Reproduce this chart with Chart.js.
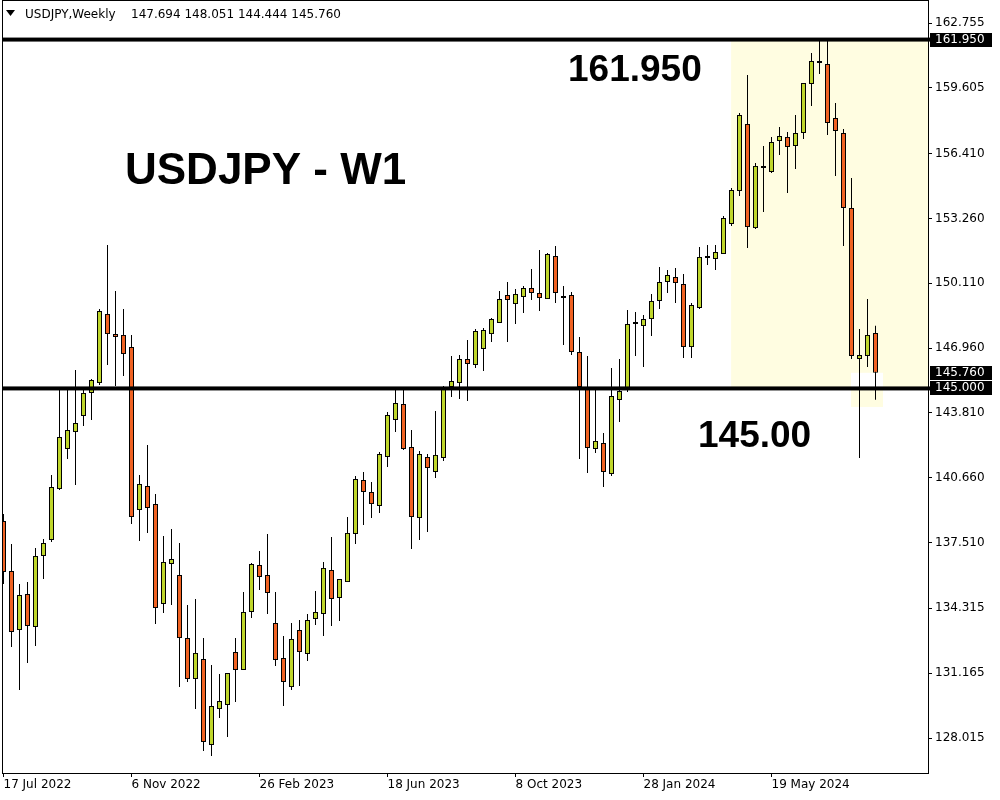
<!DOCTYPE html>
<html>
<head>
<meta charset="utf-8">
<script src="https://cdn.jsdelivr.net/npm/chart.js@4.4.0/dist/chart.umd.min.js"></script>
<style>
  html, body { margin: 0; padding: 0; background: #fff; }
</style>
</head>
<body>
<canvas id="myChart" width="1000" height="800"></canvas>
<script>
// weekly candles, first one = week of 17 Jul 2022
const opens = [
  138.56, 136.13, 133.26, 135.01, 133.41, 136.86, 137.64, 140.11, 142.06, 142.88,
  143.66, 144.78, 145.26, 148.62, 147.64, 147.60, 147.01, 139.09, 140.26, 139.38,
  134.53, 136.47, 135.93, 132.87, 130.88, 131.85, 127.68, 129.42, 129.62, 132.19,
  131.32, 134.14, 136.42, 135.93, 133.60, 131.90, 130.49, 133.26, 132.10, 133.80,
  134.04, 136.18, 134.82, 135.59, 137.93, 140.55, 139.97, 139.29, 141.67, 143.47,
  144.24, 142.15, 138.70, 141.67, 140.94, 141.62, 145.07, 145.26, 146.43, 146.14,
  146.92, 147.64, 148.18, 149.54, 149.10, 149.44, 149.88, 149.64, 149.34, 151.43,
  149.39, 149.54, 146.77, 144.97, 142.06, 142.35, 140.84, 144.44, 144.92, 148.13,
  148.03, 148.37, 149.25, 150.17, 150.41, 150.07, 147.01, 148.91, 151.34, 151.29,
  151.53, 152.99, 154.59, 157.85, 152.79, 155.71, 155.52, 157.02, 157.22, 156.78,
  157.41, 159.79, 160.81, 160.76, 158.14, 157.41, 153.77, 146.43, 146.58, 147.694
];
const highs = [
  138.90, 137.44, 135.50, 135.59, 137.25, 137.68, 140.79, 144.92, 144.97, 145.90,
  144.92, 145.46, 148.86, 151.97, 149.73, 148.86, 147.60, 140.79, 142.25, 139.87,
  137.83, 138.17, 137.49, 134.48, 134.77, 132.87, 131.56, 131.12, 131.17, 132.87,
  135.11, 136.52, 137.10, 137.93, 135.11, 132.97, 133.60, 133.75, 134.04, 135.16,
  136.57, 137.78, 135.74, 138.75, 140.75, 140.94, 140.45, 141.91, 143.85, 145.07,
  145.02, 142.98, 141.96, 141.81, 143.90, 145.12, 146.58, 146.62, 147.35, 147.89,
  147.94, 148.42, 149.73, 150.17, 149.83, 149.98, 150.80, 151.73, 151.58, 151.92,
  149.98, 149.69, 147.50, 146.58, 144.97, 142.83, 145.99, 146.43, 148.81, 148.71,
  148.57, 149.59, 150.90, 150.75, 150.85, 150.56, 149.15, 151.87, 151.97, 151.97,
  153.38, 154.74, 158.38, 160.23, 155.95, 156.78, 157.22, 157.70, 157.46, 158.28,
  159.84, 161.30, 161.95, 161.88, 158.87, 157.60, 155.22, 147.89, 149.34, 148.051
];
const lows = [
  135.50, 132.44, 130.35, 131.66, 132.49, 135.74, 137.54, 140.06, 141.57, 140.31,
  143.17, 143.47, 145.17, 146.14, 145.12, 145.60, 138.41, 137.59, 137.98, 133.55,
  134.09, 134.48, 130.49, 130.74, 129.42, 127.38, 127.14, 128.99, 128.06, 129.76,
  131.32, 133.85, 135.21, 134.04, 131.51, 129.57, 130.35, 130.54, 131.76, 133.51,
  132.97, 133.46, 133.70, 135.59, 137.44, 138.36, 138.70, 138.95, 141.18, 142.88,
  142.01, 137.20, 137.64, 138.02, 140.65, 141.47, 144.58, 144.49, 144.39, 145.99,
  145.85, 147.26, 148.18, 147.26, 148.13, 148.66, 149.30, 148.76, 149.34, 149.15,
  147.11, 146.62, 141.57, 140.89, 141.86, 140.21, 140.75, 143.37, 144.83, 146.58,
  146.04, 147.55, 148.86, 149.64, 149.15, 146.48, 146.48, 148.86, 151.00, 150.75,
  151.53, 152.89, 154.35, 151.82, 152.75, 153.57, 155.47, 156.34, 154.50, 155.66,
  157.12, 158.72, 160.28, 157.31, 155.32, 151.92, 146.43, 141.62, 146.04, 144.444
];
const closes = [
  136.08, 133.17, 134.96, 133.46, 136.86, 137.49, 140.21, 142.64, 142.98, 143.32,
  144.78, 145.41, 148.76, 147.64, 147.50, 146.67, 138.75, 140.36, 139.19, 134.33,
  136.57, 136.71, 132.87, 130.88, 132.15, 127.82, 129.57, 129.81, 131.17, 131.32,
  134.14, 136.47, 135.84, 135.06, 131.81, 130.74, 132.83, 132.19, 133.75, 134.14,
  136.28, 134.77, 135.74, 137.98, 140.60, 139.97, 139.38, 141.81, 143.71, 144.29,
  142.06, 138.75, 141.81, 141.13, 141.77, 144.97, 145.36, 146.43, 146.19, 147.79,
  147.84, 148.37, 149.34, 149.30, 149.59, 149.88, 149.64, 149.39, 151.53, 149.64,
  149.39, 146.77, 145.07, 142.11, 142.45, 140.94, 144.63, 144.87, 148.13, 148.13,
  148.37, 149.25, 150.17, 150.51, 150.12, 147.01, 149.05, 151.39, 151.34, 151.63,
  153.28, 154.64, 158.28, 152.84, 155.81, 155.71, 156.97, 157.26, 156.73, 157.41,
  159.84, 160.91, 160.81, 157.90, 157.51, 153.77, 146.58, 146.62, 147.60, 145.760
];

const xTickIdx = [0, 16, 32, 48, 64, 80, 96];
const xTickLabels = ['17 Jul 2022', '6 Nov 2022', '26 Feb 2023', '18 Jun 2023', '8 Oct 2023', '28 Jan 2024', '19 May 2024'];
const yTicks = [162.755, 159.605, 156.410, 153.260, 150.110, 146.960, 143.810, 140.660, 137.510, 134.315, 131.165, 128.015];

const levels = [161.95, 145.0];
const priceTags = [161.95, 145.76, 145.0];
const zoneStart = 90.95;
const boxIdx = [105.94, 109.94];
const boxPrices = [145.76, 144.10];

const bullColor = '#BFD62B';
const bearColor = '#F06222';
const zoneColor = '#FFFDE1';

const wicks = opens.map((o, i) => ({ x: i, y: [lows[i], highs[i]] }));
const bodies = opens.map((o, i) => ({ x: i, y: [o, closes[i]] }));
const bodyColors = opens.map((o, i) => closes[i] > o ? bullColor : bearColor);

const overlay = {
  id: 'overlay',
  beforeDatasetsDraw(chart) {
    const { ctx, chartArea: a, scales: { x, y } } = chart;
    ctx.save();
    ctx.beginPath();
    ctx.rect(a.left, a.top, a.width, a.height);
    ctx.clip();
    const zx = x.getPixelForValue(zoneStart);
    const yTop = y.getPixelForValue(levels[0]);
    const yBot = y.getPixelForValue(levels[1]);
    ctx.fillStyle = zoneColor;
    ctx.fillRect(zx, yTop, a.right - zx, yBot - yTop);
    // little box around the last candles
    const bx1 = x.getPixelForValue(boxIdx[0]);
    const bx2 = x.getPixelForValue(boxIdx[1]);
    const by1 = y.getPixelForValue(boxPrices[0]);
    const by2 = y.getPixelForValue(boxPrices[1]);
    ctx.fillStyle = '#fff';
    ctx.fillRect(bx1, by1, bx2 - bx1, yBot - by1);
    ctx.fillStyle = zoneColor;
    ctx.fillRect(bx1, yBot, bx2 - bx1, by2 - yBot);
    ctx.restore();
  },
  afterDraw(chart) {
    const { ctx, chartArea: a, scales: { y } } = chart;
    ctx.save();

    // frame
    ctx.strokeStyle = '#000';
    ctx.lineWidth = 1;
    ctx.strokeRect(a.left + 0.5, a.top - 0.5, a.width, a.height + 1);

    // horizontal levels
    ctx.fillStyle = '#000';
    levels.forEach(v => {
      const py = y.getPixelForValue(v);
      ctx.fillRect(a.left, py - 2, a.width + 4, 4);
    });

    // price tags on the axis
    ctx.font = '12px "DejaVu Sans"';
    ctx.textBaseline = 'middle';
    ctx.textAlign = 'left';
    priceTags.forEach(v => {
      const py = Math.round(y.getPixelForValue(v));
      ctx.fillStyle = '#000';
      ctx.fillRect(a.right + 2, py - 7, 62, 14);
      ctx.fillStyle = '#fff';
      ctx.fillText(v.toFixed(3), a.right + 7, py);
    });

    // header
    ctx.fillStyle = '#000';
    ctx.beginPath();
    ctx.moveTo(6, 10);
    ctx.lineTo(15, 10);
    ctx.lineTo(10.5, 16);
    ctx.closePath();
    ctx.fill();
    ctx.textBaseline = 'alphabetic';
    ctx.fillText('USDJPY,Weekly', 25, 18);
    ctx.fillText(opens[opens.length - 1].toFixed(3) + ' ' + highs[highs.length - 1].toFixed(3) + ' ' +
      lows[lows.length - 1].toFixed(3) + ' ' + closes[closes.length - 1].toFixed(3), 131, 18);

    // big labels
    ctx.font = 'bold 44px "Liberation Sans"';
    ctx.fillText('USDJPY - W1', 125, 184);
    ctx.font = 'bold 37px "Liberation Sans"';
    ctx.fillText(levels[0].toFixed(3), 568, 81);
    ctx.fillText(levels[1].toFixed(2), 698, 447);

    ctx.restore();
  }
};

Chart.defaults.font.family = '"DejaVu Sans"';
Chart.defaults.font.size = 12;
Chart.defaults.color = '#000';

const ctx = document.getElementById('myChart').getContext('2d');
const myChart = new Chart(ctx, {
  type: 'bar',
  data: {
    datasets: [
      {
        label: 'wick',
        data: wicks,
        backgroundColor: '#000',
        borderWidth: 0,
        barThickness: 1,
        grouped: false,
        inflateAmount: 0,
        order: 2
      },
      {
        label: 'body',
        data: bodies,
        backgroundColor: bodyColors,
        borderColor: '#000',
        borderWidth: 1,
        borderSkipped: false,
        barThickness: 5,
        minBarLength: 2,
        grouped: false,
        inflateAmount: 0,
        order: 1
      }
    ]
  },
  options: {
    responsive: false,
    animation: false,
    layout: { padding: { left: 2, top: 1, right: 0, bottom: 0 } },
    plugins: {
      legend: { display: false },
      tooltip: { enabled: false }
    },
    scales: {
      x: {
        type: 'linear',
        min: -0.1875,
        max: 115.5625,
        offset: false,
        grid: { display: true, drawOnChartArea: false, offset: false, tickLength: 4, color: '#000' },
        border: { display: false },
        afterBuildTicks: (scale) => { scale.ticks = xTickIdx.map(v => ({ value: v })); },
        afterFit: (scale) => { scale.height = 27; scale.paddingLeft = 0; scale.paddingRight = 0; },
        ticks: {
          autoSkip: false,
          maxRotation: 0,
          minRotation: 0,
          align: 'start',
          padding: 1,
          callback: (v, i) => xTickLabels[i]
        }
      },
      y: {
        position: 'right',
        min: 126.315,
        max: 163.824,
        beginAtZero: false,
        grid: { display: true, drawOnChartArea: false, tickLength: 4, color: '#000' },
        border: { display: false },
        afterBuildTicks: (scale) => { scale.ticks = yTicks.map(v => ({ value: v })); },
        afterFit: (scale) => { scale.width = 72; scale.paddingTop = 0; scale.paddingBottom = 0; },
        ticks: {
          padding: 3,
          callback: (v) => v.toFixed(3)
        }
      }
    }
  },
  plugins: [overlay]
});
</script>
</body>
</html>
